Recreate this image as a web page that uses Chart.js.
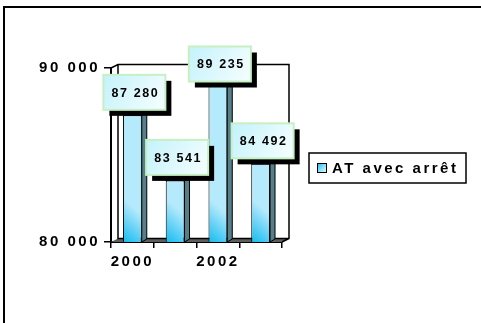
<html>
<head>
<script src="https://cdn.jsdelivr.net/npm/chart.js@4.4.0/dist/chart.umd.min.js"></script>
<style>
    body { margin: 0; background: #fff; }
    #chart { display: block; }
</style>
</head>
<body>
<canvas id="chart" width="481" height="323"></canvas>
<script>
// accidents du travail avec arrêt, par année
var years = ['2000', '2001', '2002', '2003'];
var atAvecArret = [87280, 83541, 89235, 84492];
var seriesLabel = 'AT avec arrêt';
var yTicks = [80000, 90000];

var FONT = '"Liberation Sans", Arial, sans-serif';
var WALL_DX = 7, WALL_DY = 3.5;   // depth of the box behind the plot
var BAR_DX = 5, BAR_DY = 3;       // depth of each bar

function formatNumber(v) {
    return String(v).replace(/\B(?=(\d{3})+(?!\d))/g, ' ');
}

// front face: saturated cyan on the left, lighter to the right
function barGradient(context) {
    var chart = context.chart;
    var area = chart.chartArea;
    if (!area) return '#3cc8f0';
    var x = chart.scales.x.getPixelForValue(context.dataIndex);
    var g = chart.ctx.createLinearGradient(x - 10, area.bottom, x + 12, area.bottom - 25);
    g.addColorStop(0, '#10bcef');
    g.addColorStop(0.45, '#5ccff5');
    g.addColorStop(1, '#b4eafb');
    return g;
}

var threeD = {
    id: 'threeD',
    beforeDraw: function (chart) {
        var ctx = chart.ctx;
        ctx.letterSpacing = '2.5px';
        ctx.save();
        ctx.strokeStyle = '#000';
        ctx.lineWidth = 2;
        ctx.beginPath();
        ctx.moveTo(4, 340);
        ctx.lineTo(4, 7);
        ctx.lineTo(500, 7);
        ctx.stroke();
        ctx.restore();
    },
    beforeDatasetsDraw: function (chart) {
        var a = chart.chartArea, ctx = chart.ctx;
        ctx.save();
        // floor
        ctx.fillStyle = '#5e5e5e';
        ctx.beginPath();
        ctx.moveTo(a.left, a.bottom);
        ctx.lineTo(a.right, a.bottom);
        ctx.lineTo(a.right + WALL_DX, a.bottom - WALL_DY);
        ctx.lineTo(a.left + WALL_DX, a.bottom - WALL_DY);
        ctx.closePath();
        ctx.fill();
        // back walls
        ctx.strokeStyle = '#000';
        ctx.lineWidth = 1.5;
        ctx.beginPath();
        ctx.moveTo(a.left, a.top);
        ctx.lineTo(a.left + WALL_DX, a.top - WALL_DY);
        ctx.lineTo(a.right + WALL_DX, a.top - WALL_DY);
        ctx.lineTo(a.right + WALL_DX, a.bottom - WALL_DY);
        ctx.lineTo(a.right, a.bottom);
        ctx.moveTo(a.left + WALL_DX, a.top - WALL_DY);
        ctx.lineTo(a.left + WALL_DX, a.bottom - WALL_DY);
        ctx.lineTo(a.right + WALL_DX, a.bottom - WALL_DY);
        ctx.stroke();
        ctx.restore();
    },
    afterDatasetsDraw: function (chart) {
        var ctx = chart.ctx, a = chart.chartArea;
        var bars = chart.getDatasetMeta(0).data;
        ctx.save();
        ctx.strokeStyle = '#000';
        ctx.lineWidth = 1;
        bars.forEach(function (bar) {
            var p = bar.getProps(['x', 'y', 'base', 'width'], true);
            var l = p.x - p.width / 2, r = p.x + p.width / 2;
            var base = Math.min(p.base, a.bottom);
            // side face
            ctx.fillStyle = '#557f89';
            ctx.beginPath();
            ctx.moveTo(r, p.y);
            ctx.lineTo(r + BAR_DX, p.y - BAR_DY);
            ctx.lineTo(r + BAR_DX, base - BAR_DY);
            ctx.lineTo(r, base);
            ctx.closePath();
            ctx.fill();
            ctx.stroke();
            // top face
            ctx.fillStyle = '#6a9eac';
            ctx.beginPath();
            ctx.moveTo(l, p.y);
            ctx.lineTo(l + BAR_DX, p.y - BAR_DY);
            ctx.lineTo(r + BAR_DX, p.y - BAR_DY);
            ctx.lineTo(r, p.y);
            ctx.closePath();
            ctx.fill();
            ctx.stroke();
        });

        // value boxes
        var w = 62, h = 35;
        ctx.font = 'bold 12.5px ' + FONT;
        ctx.letterSpacing = '1.6px';
        ctx.textAlign = 'center';
        ctx.textBaseline = 'middle';
        bars.forEach(function (bar, i) {
            var p = bar.getProps(['x', 'y'], true);
            var cx = p.x + 2;
            var cy = Math.max(p.y - 23, a.top - 4);
            var bx = cx - w / 2, by = cy - h / 2;
            ctx.fillStyle = '#000';
            ctx.fillRect(bx + 6, by + 6, w, h);
            var g = ctx.createLinearGradient(bx, by, bx + w, by + h);
            g.addColorStop(0, '#c4f2fb');
            g.addColorStop(1, '#f6feff');
            ctx.fillStyle = g;
            ctx.fillRect(bx, by, w, h);
            ctx.strokeStyle = '#c6f0c4';
            ctx.lineWidth = 2;
            ctx.strokeRect(bx, by, w, h);
            ctx.fillStyle = '#000';
            ctx.fillText(formatNumber(atAvecArret[i]), cx + 1, cy + 1);
        });
        ctx.restore();
    },
    afterDraw: function (chart) {
        var ctx = chart.ctx;
        ctx.save();
        // legend
        ctx.strokeStyle = '#000';
        ctx.lineWidth = 1.5;
        ctx.fillStyle = '#fff';
        ctx.fillRect(309, 153, 157, 30);
        ctx.strokeRect(309, 153, 157, 30);
        var g = ctx.createLinearGradient(317, 163, 326, 172);
        g.addColorStop(0, '#12bcef');
        g.addColorStop(1, '#e6f8fd');
        ctx.fillStyle = g;
        ctx.fillRect(317, 163, 9, 9);
        ctx.lineWidth = 1;
        ctx.strokeRect(317.5, 163.5, 9, 9);
        ctx.fillStyle = '#000';
        ctx.font = 'bold 15px ' + FONT;
        ctx.letterSpacing = '2.5px';
        ctx.textBaseline = 'middle';
        ctx.fillText(chart.data.datasets[0].label, 332, 169);
        ctx.restore();
    }
};

new Chart(document.getElementById('chart'), {
    type: 'bar',
    data: {
        labels: years,
        datasets: [{
            label: seriesLabel,
            data: atAvecArret,
            backgroundColor: barGradient,
            borderColor: '#000',
            borderWidth: 1,
            categoryPercentage: 1,
            barPercentage: 0.44
        }]
    },
    options: {
        responsive: false,
        animation: false,
        layout: { padding: { left: 0, top: 68, right: 199, bottom: 0 } },
        plugins: {
            legend: { display: false },
            tooltip: { enabled: false }
        },
        scales: {
            x: {
                offset: true,
                grid: {
                    offset: true,
                    drawOnChartArea: false,
                    color: '#000',
                    lineWidth: 1.5,
                    tickLength: 6
                },
                border: { color: '#000', width: 2 },
                ticks: {
                    color: '#000',
                    font: { family: FONT, size: 15, weight: 'bold' },
                    padding: 5,
                    maxRotation: 0,
                    autoSkip: false,
                    callback: function (value, index) {
                        return index % 2 === 0 ? this.getLabelForValue(value) : '';
                    }
                },
                afterFit: function (scale) { scale.height = 81; }
            },
            y: {
                min: 80000,
                max: 90000,
                grid: {
                    drawOnChartArea: false,
                    color: '#000',
                    lineWidth: 1.5,
                    tickLength: 7
                },
                border: { color: '#000', width: 2 },
                afterBuildTicks: function (scale) {
                    scale.ticks = yTicks.map(function (v) { return { value: v }; });
                },
                ticks: {
                    color: '#000',
                    font: { family: FONT, size: 15, weight: 'bold' },
                    padding: 4,
                    callback: function (value) { return formatNumber(value); }
                },
                afterFit: function (scale) { scale.width = 111; }
            }
        }
    },
    plugins: [threeD]
});
</script>
</body>
</html>
